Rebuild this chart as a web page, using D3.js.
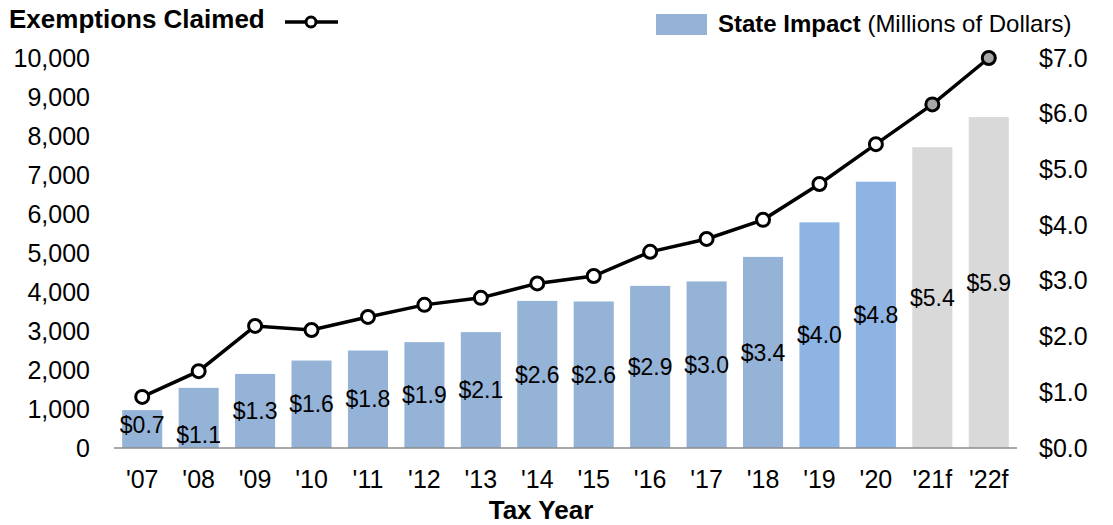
<!DOCTYPE html>
<html>
<head>
<meta charset="utf-8">
<script src="https://cdn.jsdelivr.net/npm/d3@7"></script>
<style>
  body { margin: 0; background: #fff; }
  text { font-family: "Liberation Sans", Arial, sans-serif; fill: #000; }
</style>
</head>
<body>
<div class="container"></div>
<script>
// data
var years = ["'07", "'08", "'09", "'10", "'11", "'12", "'13", "'14", "'15", "'16", "'17", "'18", "'19", "'20", "'21f", "'22f"];
var impact = [0.68, 1.08, 1.33, 1.57, 1.75, 1.90, 2.08, 2.64, 2.63, 2.91, 2.99, 3.43, 4.05, 4.78, 5.40, 5.94];
var impactLabels = ["$0.7", "$1.1", "$1.3", "$1.6", "$1.8", "$1.9", "$2.1", "$2.6", "$2.6", "$2.9", "$3.0", "$3.4", "$4.0", "$4.8", "$5.4", "$5.9"];
var exemptions = [1310, 1970, 3130, 3025, 3360, 3670, 3850, 4220, 4410, 5030, 5360, 5850, 6770, 7790, 8810, 10000];
var leftTicks = [0, 1000, 2000, 3000, 4000, 5000, 6000, 7000, 8000, 9000, 10000];
var rightTicks = [0, 1, 2, 3, 4, 5, 6, 7];

var W = 1113, H = 525;
var margin = { left: 114, right: 96, top: 58, bottom: 77 };
var FONT = '"Liberation Sans", Arial, sans-serif';

var svg = d3.select('.container').append('svg')
            .attr('width', W)
            .attr('height', H);

var x = d3.scaleBand()
          .domain(years)
          .range([margin.left, W - margin.right])
          .paddingInner(0.29)
          .paddingOuter(0.145);

var yL = d3.scaleLinear().domain([0, 10000]).range([H - margin.bottom, margin.top]);
var yR = d3.scaleLinear().domain([0, 7]).range([H - margin.bottom, margin.top]);

function barColor(d, i) {
  if (i >= 14) return '#D9D9D9';
  if (i >= 12) return '#8DB4E2';
  return '#95B3D7';
}

// bars
svg.selectAll('rect.bar')
   .data(impact)
   .enter()
   .append('rect')
   .attr('class', 'bar')
   .attr('x', function(d, i){ return x(years[i]); })
   .attr('y', function(d){ return yR(d); })
   .attr('width', x.bandwidth())
   .attr('height', function(d){ return yR(0) - yR(d); })
   .attr('fill', barColor);

// baseline
svg.append('line')
   .attr('x1', margin.left).attr('x2', W - margin.right)
   .attr('y1', yR(0)).attr('y2', yR(0))
   .attr('stroke', '#8C8C8C').attr('stroke-width', 1.5);

// bar labels, centred in the bar ('08 nudged down as in the original)
svg.selectAll('text.blabel')
   .data(impactLabels)
   .enter()
   .append('text')
   .attr('class', 'blabel')
   .attr('x', function(d, i){ return x(years[i]) + x.bandwidth() / 2; })
   .attr('y', function(d, i){
     var mid = (yR(impact[i]) + yR(0)) / 2;
     if (i === 0) mid -= 4;
     if (i === 1) mid += 17;
     return mid;
   })
   .attr('dy', '0.35em')
   .attr('text-anchor', 'middle')
   .style('font-size', '23px')
   .text(function(d){ return d; });

// exemptions line
var line = d3.line()
             .x(function(d, i){ return x(years[i]) + x.bandwidth() / 2; })
             .y(function(d){ return yL(d); });

svg.append('path')
   .datum(exemptions)
   .attr('d', line)
   .attr('fill', 'none')
   .attr('stroke', '#000')
   .attr('stroke-width', 3.5);

svg.selectAll('circle.pt')
   .data(exemptions)
   .enter()
   .append('circle')
   .attr('class', 'pt')
   .attr('cx', function(d, i){ return x(years[i]) + x.bandwidth() / 2; })
   .attr('cy', function(d){ return yL(d); })
   .attr('r', 6.5)
   .attr('fill', function(d, i){ return i >= 14 ? '#A6A6A6' : '#fff'; })
   .attr('stroke', '#000')
   .attr('stroke-width', 3);

function styleTicks(g) {
  g.select('.domain').remove();
  g.selectAll('text')
   .style('font-size', '25px')
   .style('font-family', FONT)
   .attr('fill', '#000');
}

// left axis
svg.append('g')
   .attr('transform', 'translate(90,0)')
   .call(d3.axisLeft(yL).tickValues(leftTicks).tickSize(0).tickPadding(0)
           .tickFormat(d3.format(',')))
   .call(styleTicks);

// right axis
svg.append('g')
   .attr('transform', 'translate(1039,0)')
   .call(d3.axisRight(yR).tickValues(rightTicks).tickSize(0).tickPadding(0)
           .tickFormat(function(d){ return '$' + d3.format('.1f')(d); }))
   .call(styleTicks);

// x axis
svg.append('g')
   .attr('transform', 'translate(0,' + (yR(0) + 22) + ')')
   .call(d3.axisBottom(x).tickSize(0).tickPadding(0))
   .call(styleTicks);

svg.append('text')
   .attr('x', 541)
   .attr('y', 519)
   .attr('text-anchor', 'middle')
   .style('font-size', '26px')
   .style('font-weight', 'bold')
   .text('Tax Year');

// legend: exemptions
svg.append('text')
   .attr('x', 9).attr('y', 28)
   .style('font-size', '26px')
   .style('font-weight', 'bold')
   .text('Exemptions Claimed');
svg.append('line')
   .attr('x1', 285).attr('x2', 338).attr('y1', 22).attr('y2', 22)
   .attr('stroke', '#000').attr('stroke-width', 3.5);
svg.append('circle')
   .attr('cx', 311).attr('cy', 22).attr('r', 5)
   .attr('fill', '#fff').attr('stroke', '#000').attr('stroke-width', 3);

// legend: state impact
svg.append('rect')
   .attr('x', 656).attr('y', 14).attr('width', 51).attr('height', 21)
   .attr('fill', '#95B3D7');
var lt = svg.append('text')
   .attr('x', 718).attr('y', 32)
   .style('font-size', '24px');
lt.append('tspan').style('font-weight', 'bold').text('State Impact');
lt.append('tspan').text(' (Millions of Dollars)');
</script>
</body>
</html>
